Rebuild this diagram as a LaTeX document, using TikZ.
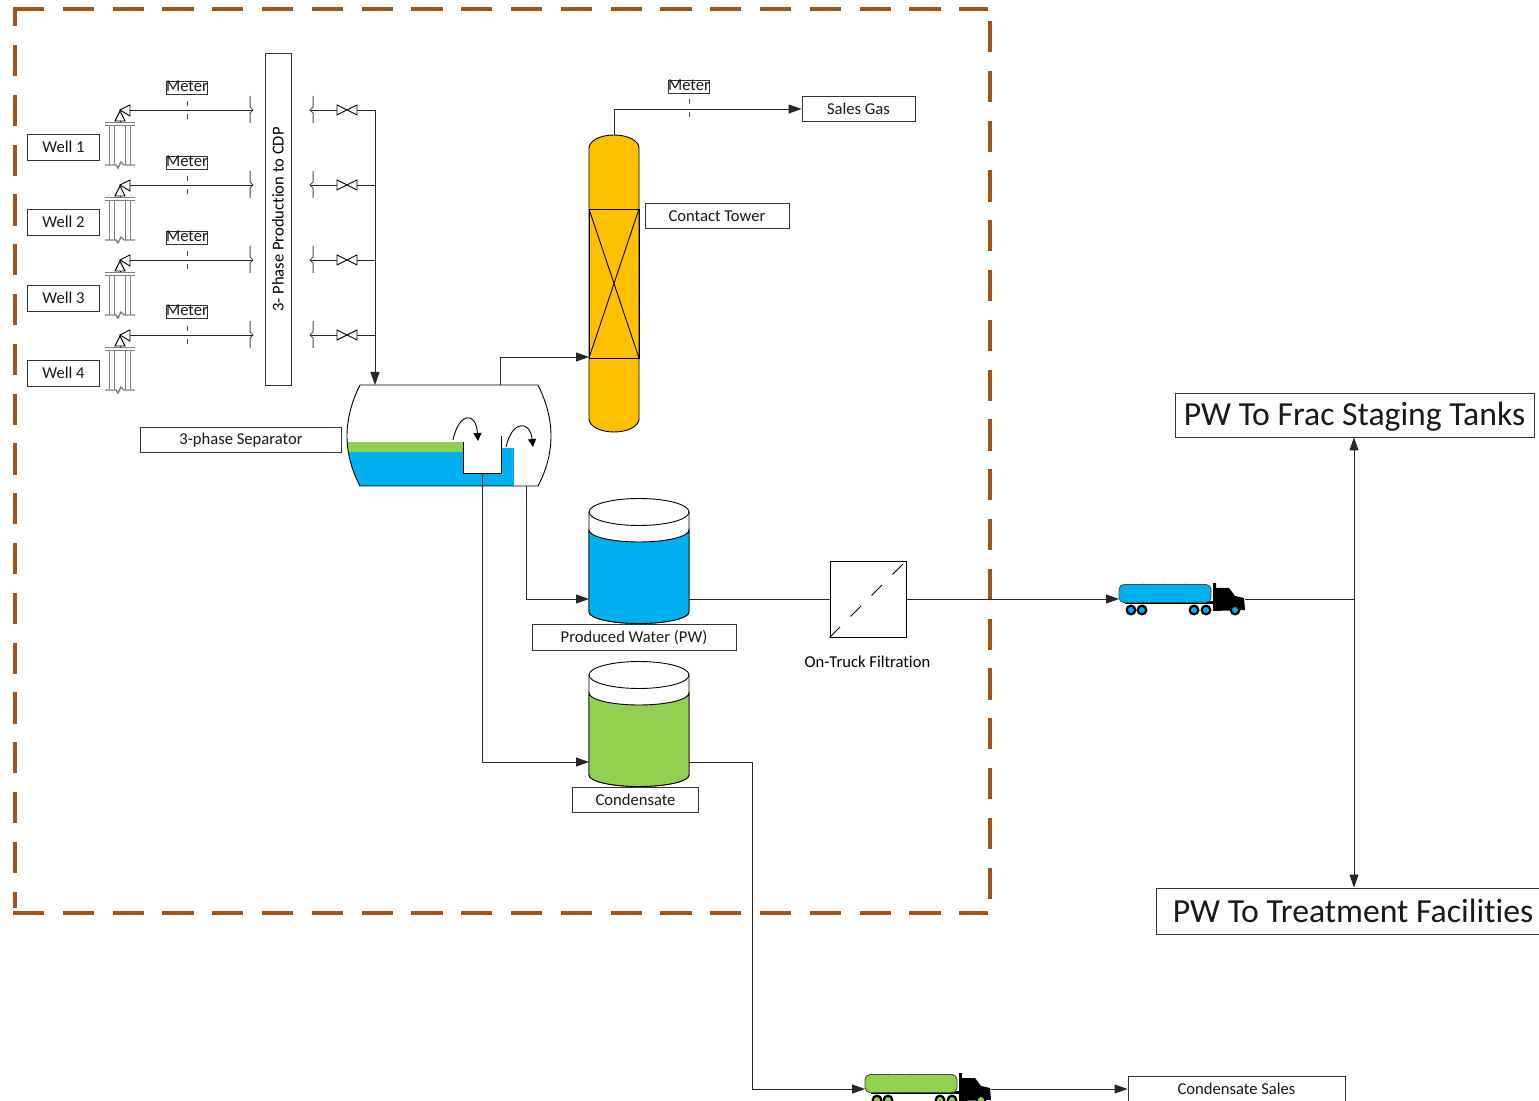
\documentclass[tikz,border=0pt]{standalone}
\usepackage{fontspec}
\setmainfont[Ligatures=CommonOff]{Carlito}
\usetikzlibrary{arrows.meta}
\definecolor{cblue}{RGB}{0,176,240}
\definecolor{cgreen}{RGB}{146,208,80}
\definecolor{cgold}{RGB}{255,192,0}
\definecolor{cbrown}{RGB}{166,84,20}
\tikzset{
  plant/.style={x=0.5pt,y=-0.5pt,line width=0.45pt,font=\fontsize{8.3}{9}\selectfont},
  pipe/.style={line width=0.45pt,black!85},
  feed/.style={pipe,-{Triangle[length=6.5pt,width=4.5pt]}},
  tag/.style={draw,black!80,line width=0.45pt,fill=white,inner sep=0pt,text=black!90},
  bigtag/.style={tag,font=\fontsize{16.85}{18}\selectfont},
  ghost/.style={inner sep=0pt,outer sep=0pt},
  bound/.style={cbrown,line width=1.8pt,dash pattern=on 15.6pt off 9.3pt},
  grayline/.style={black!50,line width=0.7pt},
  brk/.style={black!70,line width=0.5pt},
  probe/.style={black!70,dash pattern=on 2.5pt off 4pt}
}

\begin{document}
\begin{tikzpicture}[plant]
    \useasboundingbox (0,0) rectangle (1539,1101);
    % boundary
    \draw[bound] (13,9) -- (988,9);
    \draw[bound] (13,913) -- (988,913);
    \draw[bound,dash phase=-18pt] (15,9) -- (15,908);
    \draw[bound,dash phase=-6pt] (990,9) -- (990,908);

    % wells, meters, valves
    \node[tag,minimum width=13pt,minimum height=166pt] (prod) at (278,219.5) {};
    \node[rotate=90] (prodlabel) at (278,219.5) {3- Phase Production to CDP};
    \foreach \i/\ly/\wy/\my in {1/110/147/87,2/185/222/162,3/260/298/237,4/335/373/311} {
      \node[tag,minimum width=36pt,minimum height=13pt] (well\i) at (63.5,\wy) {Well \i};
      \node[tag,minimum width=20pt,minimum height=6.5pt,text height=4pt,text depth=0pt,yshift=-0.5pt] (meter\i) at (187,\my) {Meter};
      \begin{scope}[shift={(0,\ly)}]
        % tubing
        \draw[grayline] (105,12.5) -- (135,12.5) (105,15.5) -- (135,15.5);
        \foreach \tx in {109.5,114.5,125.5,130.5} \draw[grayline] (\tx,15) -- (\tx,55);
        \draw[grayline] (105,55) -- (116,55) -- (118,58) -- (121,52) -- (124,55) -- (135,55);
        % tree
        \draw[black,fill=white] (120,1) -- (115,11) -- (125,11) -- cycle;
        \draw (120,11) -- (120,12);
        \draw[black,fill=white] (120,0) -- (130,-5) -- (130,6) -- cycle;
        \coordinate (head\i) at (130,0);
        % flange breaks
        \coordinate (brkl\i) at (253,0);
        \draw[brk] (250,-14) -- (250,-3) -- (253,0) -- (250,3) -- (250,13);
        \coordinate (brkr\i) at (310,0);
        \draw[brk] (313,-14) -- (313,-3) -- (310,0) -- (313,3) -- (313,13);
        % valve
        \node[ghost,minimum width=10pt,minimum height=5.5pt] (valve\i) at (347,0) {};
        \draw (337,-5) -- (357,5) -- (357,-5) -- (337,5) -- cycle;
        \coordinate (hdr\i) at (375,0);
        \draw[probe] (187,-9) -- (187,9);
      \end{scope}
      \draw[pipe] (brkl\i) -- (head\i);
      \draw[pipe] (brkr\i) -- (valve\i.west);
      \draw[pipe] (valve\i.east) -- (hdr\i);
    }

    % separator
    \node[ghost,minimum width=102pt,minimum height=50.5pt] (sep) at (449,435.5) {};
    \begin{scope}
      \clip (360,385) .. controls (351,403) and (347,420) .. (347,436) .. controls (347,452) and (351,469) .. (360,486) -- (538,486) -- (538,385) -- cycle;
      \fill[cblue] (340,452) rectangle (514,486);
      \fill[cgreen] (340,442) rectangle (463,452);
      \fill[cblue] (501,448) rectangle (514,486);
    \end{scope}
    \draw[fill=white] (463,442) -- (463,473) -- (501,473) -- (501,436);
    \draw (360,385) .. controls (351,403) and (347,420) .. (347,436) .. controls (347,452) and (351,469) .. (360,486) -- (538,486)
      .. controls (547,469) and (551,452) .. (551,436) .. controls (551,420) and (547,403) .. (538,385) -- cycle;
    \draw[-{Triangle[length=4pt,width=4pt]}] (453,440) .. controls (459,412) and (476,411) .. (478,441);
    \draw[-{Triangle[length=4pt,width=4pt]}] (506,447) .. controls (512,420) and (530,420) .. (533,447);
    \node[tag,minimum width=100.5pt,minimum height=12.5pt,text height=7pt,text depth=2pt] (septag) at (241,439.5) {3-phase Separator};

    % contact tower
    \node[ghost,minimum width=25pt,minimum height=148.5pt] (tower) at (614,283.5) {};
    \draw[fill=cgold] (589,148) arc[start angle=180,end angle=360,x radius=25,y radius=13] -- (639,419)
      arc[start angle=0,end angle=180,x radius=25,y radius=13] -- cycle;
    \draw (589,209) rectangle (639,358);
    \draw (589,209) -- (639,358) (639,209) -- (589,358);
    \node[tag,minimum width=72pt,minimum height=12.5pt] (towertag) at (717,216) {Contact Tower};
    \node[tag,minimum width=56.5pt,minimum height=12.5pt] (gas) at (858.5,109) {Sales Gas};
    \node[tag,minimum width=20pt,minimum height=6.5pt,text height=4pt,text depth=0pt,yshift=-0.5pt] (meter5) at (689,86) {Meter};
    \draw[probe] (689,99) -- (689,118);

    % tanks
    \foreach \ty/\tc/\tn in {0/cblue/tankpw,163/cgreen/tankcond} {
      \node[ghost,minimum width=50pt,minimum height=62pt] (\tn) at (639,{561+\ty}) {};
      \begin{scope}[shift={(0,\ty)}]
        \draw[fill=white] (589,512) -- (589,612) arc[start angle=180,end angle=0,x radius=50,y radius=11.5] -- (689,512) -- cycle;
        \draw[fill=\tc] (589,530) arc[start angle=180,end angle=0,x radius=50,y radius=12] -- (689,612)
          arc[start angle=0,end angle=180,x radius=50,y radius=11.5] -- cycle;
        \draw[fill=white] (639,512) ellipse[x radius=50,y radius=13.5];
      \end{scope}
    }
    \node[tag,minimum width=102pt,minimum height=13pt,text height=7.4pt,text depth=2pt] (pwtag) at (634,637) {Produced Water (PW)};
    \node[tag,minimum width=63pt,minimum height=12.5pt] (condtag) at (635.5,800) {Condensate};

    % filter
    \node[tag,draw=black,minimum width=38pt,minimum height=38pt] (filter) at (868,599) {};
    \draw[dash pattern=on 7.4pt off 7.45pt] (filter.south west) -- (filter.north east);
    \node (filtertag) at (867.5,662) {On-Truck Filtration};

    % trucks
    \foreach \dx/\dy/\tc/\tn in {0/0/cblue/truckpw,-254/490/cgreen/truckcond} {
      \begin{scope}[shift={(\dx,\dy)}]
        \fill[black] (1213,583) -- (1216,583) -- (1216,588) -- (1229,588) -- (1235,596) -- (1244,598) -- (1245,610) -- (1213,611) -- cycle;
        \fill[black] (1125,601) rectangle (1215,604);
        \foreach \nx in {1143,1164,1185} \fill[black] (\nx,585) circle (1.5);
        \node[draw=black!70,fill=\tc,rounded corners=2.5pt,minimum width=46pt,minimum height=9pt,inner sep=0pt] (\tn) at (1165,593.5) {};
        \coordinate (\tn in) at (1119,599);
        \foreach \wx in {1131,1142,1194,1206,1235} {
          \fill[black] (\wx,610) circle (5.5);
          \fill[\tc] (\wx,610) circle (3);
        }
      \end{scope}
    }

    % result tags
    \node[bigtag,minimum width=179.5pt,minimum height=22pt,text height=14.5pt,text depth=3.5pt] (frac) at (1354.5,415) {PW To Frac Staging Tanks};
    \node[bigtag,minimum width=194pt,minimum height=23pt] (treat) at (1350,911) {\hspace*{3pt}PW To Treatment Facilities};
    \node[tag,minimum width=108.5pt,minimum height=12.5pt] (sales) at (1236.5,1089) {Condensate Sales};

    % piping
    \draw[feed] (hdr1) -- (hdr1 |- sep.north);
    \coordinate (wetop) at (500,385);
    \coordinate (towerin) at (589,357);
    \draw[feed] (wetop) |- (towerin);
    \coordinate (towertop) at (614,135);
    \draw[feed] (towertop) |- (gas.west);
    \coordinate (pwout) at (526,486);
    \coordinate (pwin) at (589,599);
    \draw[feed] (pwout) |- (pwin);
    \coordinate (condout) at (482,473);
    \coordinate (condin) at (589,762);
    \draw[feed] (condout) |- (condin);
    \coordinate (pwright) at (689,599);
    \draw[pipe] (pwright) -- (filter.west);
    \draw[feed] (filter.east) -- (truckpwin);
    \coordinate (cab) at (1245,599);
    \coordinate (split) at (1354,599);
    \draw[pipe] (cab) -- (split);
    \draw[feed] (split) -- (split |- frac.south);
    \draw[feed] (split) -- (split |- treat.north);
    \coordinate (condright) at (689,762);
    \coordinate (condbend) at (752,762);
    \draw[pipe] (condright) -- (condbend);
    \draw[feed] (condbend) |- (truckcondin);
    \coordinate (cab2) at (991,1089);
    \draw[feed] (cab2) -- (sales.west);
\end{tikzpicture}
\end{document}
